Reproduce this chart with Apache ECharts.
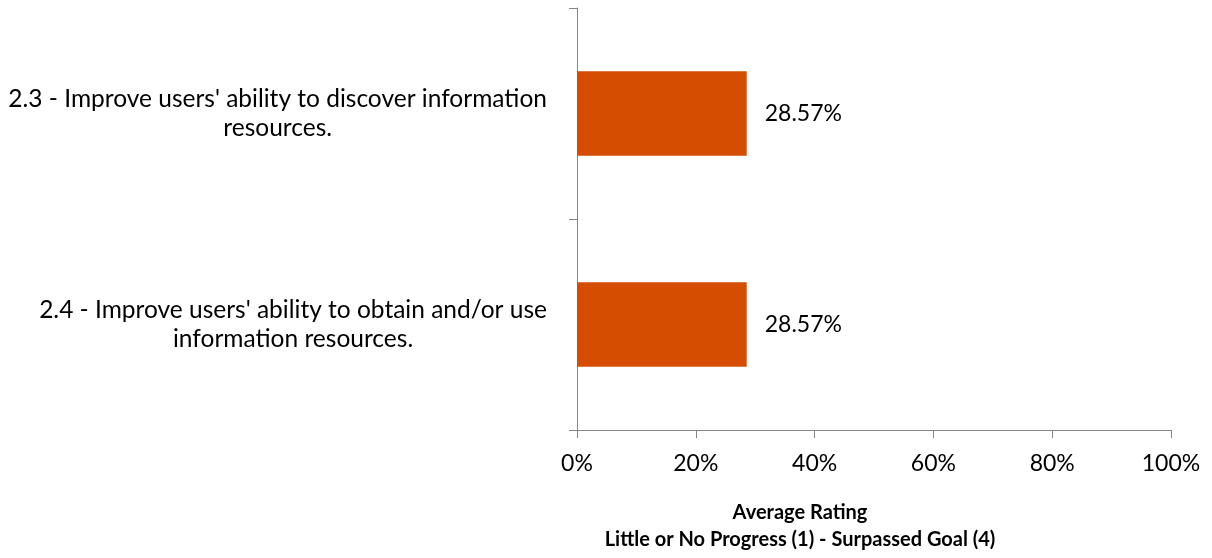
<!DOCTYPE html>
<html>
<head>
<meta charset="utf-8">
<script src="https://cdn.jsdelivr.net/npm/echarts@6/dist/echarts.min.js"></script>
<style>
html,body{margin:0;padding:0;background:#fff;}
#chart{width:1212px;height:558px;}
</style>
</head>
<body>
<div id="chart"></div>
<script>
const categories = [
  "2.3 - Improve users' ability to discover information\nresources.",
  "2.4 - Improve users' ability to obtain and/or use\ninformation resources."
];
const values = [28.57, 28.57];
const xTicks = [0, 20, 40, 60, 80, 100];
const axisTitle = "Average Rating\nLittle or No Progress (1) - Surpassed Goal (4)";

const FONT = 'Lato, "Open Sans", sans-serif';
const chart = echarts.init(document.getElementById('chart'), null, {renderer: 'canvas'});
chart.setOption({
  animation: false,
  backgroundColor: '#ffffff',
  grid: {left: 577, right: 41, top: 8, bottom: 122, containLabel: false},
  xAxis: {
    type: 'value',
    min: xTicks[0],
    max: xTicks[xTicks.length - 1],
    interval: 20,
    splitLine: {show: false},
    axisLine: {show: true, lineStyle: {color: '#868686', width: 1}},
    axisTick: {show: true, length: 8, lineStyle: {color: '#868686'}},
    axisLabel: {formatter: '{value}%', color: '#000', fontSize: 23, fontFamily: FONT, margin: 22},
    name: axisTitle,
    nameLocation: 'middle',
    nameGap: 69,
    nameTextStyle: {color: '#000', fontSize: 20, fontWeight: 'bold', fontFamily: FONT, lineHeight: 27, padding: [0, 148, 0, 0]}
  },
  yAxis: {
    type: 'category',
    data: categories,
    inverse: true,
    axisLine: {show: true, lineStyle: {color: '#868686', width: 1}},
    axisTick: {show: true, length: 8, lineStyle: {color: '#868686'}},
    axisLabel: {
      margin: 30,
      align: 'right',
      color: '#000',
      fontSize: 24,
      fontFamily: FONT,
      formatter: function (v) {
        return v.split('\n').map(function (l) { return '{c|' + l + '}'; }).join('\n');
      },
      rich: {c: {align: 'center', fontSize: 24.5, fontFamily: FONT, color: '#000', lineHeight: 29}}
    }
  },
  series: [{
    type: 'bar',
    data: values,
    barCategoryGap: '60%',
    itemStyle: {color: '#D54D00'},
    label: {
      show: true,
      position: 'right',
      distance: 18,
      color: '#000',
      fontSize: 23,
      fontFamily: FONT,
      formatter: function (p) { return p.value.toFixed(2) + '%'; }
    }
  }]
});
</script>
</body>
</html>
